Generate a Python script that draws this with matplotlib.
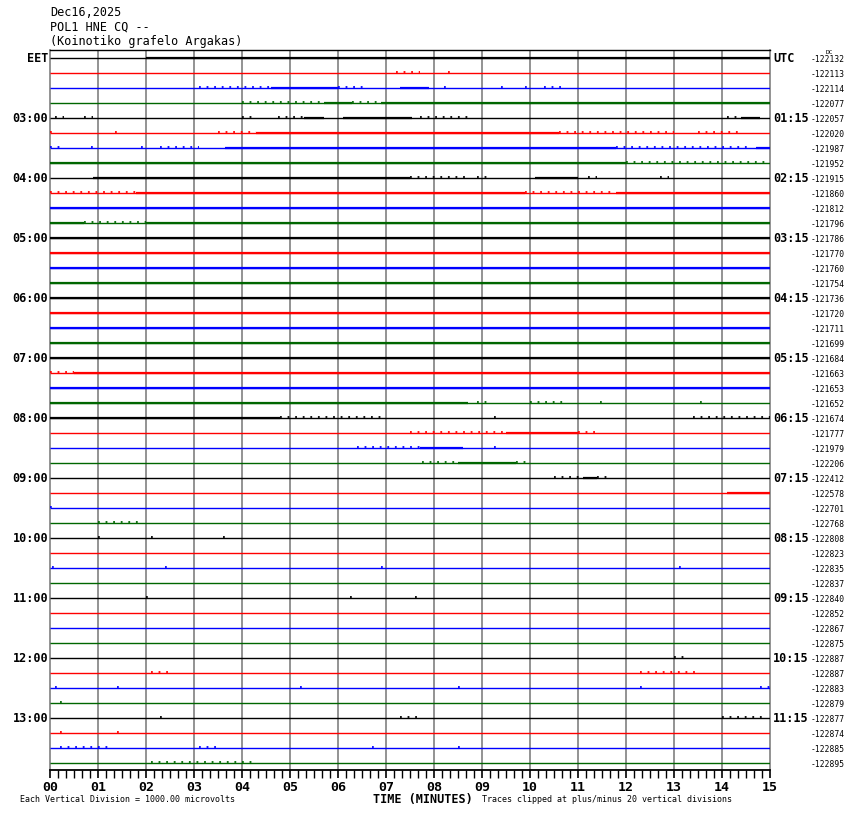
import matplotlib
matplotlib.use('Agg')
import matplotlib.pyplot as plt
import matplotlib.transforms as mtransforms

# helicorder rows: 48 traces, 15 min each, starting 02:00 EET
trace_colors = ['#000000', '#ff0000', '#0000ff', '#006600']

left_labels = {0: 'EET', 4: '03:00', 8: '04:00', 12: '05:00', 16: '06:00', 20: '07:00',
               24: '08:00', 28: '09:00', 32: '10:00', 36: '11:00', 40: '12:00', 44: '13:00'}
right_labels = {0: 'UTC', 4: '01:15', 8: '02:15', 12: '03:15', 16: '04:15', 20: '05:15',
                24: '06:15', 28: '07:15', 32: '08:15', 36: '09:15', 40: '10:15', 44: '11:15'}

dc_offsets = [-122132, -122113, -122114, -122077, -122057, -122020, -121987, -121952,
              -121915, -121860, -121812, -121796, -121786, -121770, -121760, -121754,
              -121736, -121720, -121711, -121699, -121684, -121663, -121653, -121652,
              -121674, -121777, -121979, -122206, -122412, -122578, -122701, -122768,
              -122808, -122823, -122835, -122837, -122840, -122852, -122867, -122875,
              -122887, -122887, -122883, -122879, -122877, -122874, -122885, -122895]

# noisy stretches per trace: (start min, end min, level) 1 = scattered spikes, 2 = dense
noise = {
    0: [(2.0, 15.0, 2)],
    1: [(7.2, 7.7, 1), (8.3, 8.4, 1)],
    2: [(3.1, 4.6, 1), (4.6, 6.0, 2), (6.0, 6.6, 1), (7.3, 7.9, 2), (8.2, 8.25, 1),
        (9.4, 9.5, 1), (9.9, 10.0, 1), (10.3, 10.7, 1)],
    3: [(4.0, 5.7, 1), (5.7, 6.3, 2), (6.3, 6.9, 1), (6.9, 15.0, 2)],
    4: [(0.1, 0.3, 1), (0.7, 0.9, 1), (4.0, 4.3, 1), (4.75, 5.3, 1), (5.3, 5.7, 2),
        (6.1, 7.55, 2), (7.7, 8.8, 1), (14.1, 14.4, 1), (14.4, 14.8, 2)],
    5: [(0.0, 0.1, 1), (1.35, 1.45, 1), (3.5, 4.3, 1), (4.3, 10.6, 2), (10.6, 13.0, 1),
        (13.5, 14.4, 1)],
    6: [(0.0, 0.2, 1), (0.85, 0.95, 1), (1.9, 2.0, 1), (2.3, 3.1, 1), (3.65, 11.8, 2),
        (11.8, 14.6, 1), (14.7, 15.0, 2)],
    7: [(0.0, 12.0, 2), (12.0, 15.0, 1)],
    8: [(0.9, 7.5, 2), (7.5, 8.7, 1), (8.9, 9.2, 1), (10.1, 11.0, 2), (11.2, 11.4, 1),
        (12.7, 12.9, 1)],
    9: [(0.0, 1.8, 1), (1.8, 9.9, 2), (9.9, 11.8, 1), (11.8, 15.0, 2)],
    10: [(0.0, 15.0, 2)],
    11: [(0.0, 0.7, 2), (0.7, 2.0, 1), (2.0, 15.0, 2)],
    12: [(0.0, 15.0, 2)], 13: [(0.0, 15.0, 2)], 14: [(0.0, 15.0, 2)], 15: [(0.0, 15.0, 2)],
    16: [(0.0, 15.0, 2)], 17: [(0.0, 15.0, 2)], 18: [(0.0, 15.0, 2)], 19: [(0.0, 15.0, 2)],
    20: [(0.0, 15.0, 2)], 21: [(0.0, 0.5, 1), (0.5, 15.0, 2)], 22: [(0.0, 15.0, 2)],
    23: [(0.0, 8.7, 2), (8.9, 9.2, 1), (10.0, 10.7, 1), (11.45, 11.55, 1), (13.55, 13.65, 1)],
    24: [(0.0, 4.8, 2), (4.8, 7.0, 1), (9.25, 9.35, 1), (13.4, 15.0, 1)],
    25: [(7.5, 9.5, 1), (9.5, 11.0, 2), (11.0, 11.4, 1)],
    26: [(6.4, 7.7, 1), (7.7, 8.6, 2), (9.25, 9.3, 1)],
    27: [(7.75, 8.5, 1), (8.5, 9.7, 2), (9.7, 9.95, 1)],
    28: [(10.5, 11.1, 1), (11.1, 11.4, 2), (11.4, 11.6, 1)],
    29: [(14.1, 15.0, 2)],
    30: [(0.0, 0.1, 1)],
    31: [(1.0, 1.9, 1)],
    32: [(1.0, 1.1, 1), (2.1, 2.2, 1), (3.6, 3.7, 1)],
    34: [(0.05, 0.15, 1), (2.4, 2.5, 1), (6.9, 7.0, 1), (13.1, 13.2, 1)],
    36: [(2.0, 2.1, 1), (6.25, 6.35, 1), (7.6, 7.7, 1)],
    40: [(13.0, 13.3, 1)],
    41: [(2.1, 2.5, 1), (12.3, 13.5, 1)],
    42: [(0.1, 0.2, 1), (1.4, 1.5, 1), (5.2, 5.3, 1), (8.5, 8.6, 1), (12.3, 12.4, 1),
         (14.8, 15.0, 1)],
    43: [(0.2, 0.3, 1)],
    44: [(2.3, 2.4, 1), (7.3, 7.7, 1), (14.0, 14.9, 1)],
    45: [(0.2, 0.3, 1), (1.4, 1.5, 1)],
    46: [(0.2, 1.2, 1), (3.1, 3.5, 1), (6.7, 6.8, 1), (8.5, 8.6, 1)],
    47: [(2.1, 4.2, 1)],
}

minute_labels = ['%02d' % m for m in range(16)]

W, H = 850, 814
fig = plt.figure(figsize=(W / 100, H / 100), dpi=100)
fig.patch.set_facecolor('white')

def fx(px):
    return px / W

def fy(py):
    return 1 - py / H

ax = fig.add_axes([fx(50), fy(770), 720 / W, 720 / H])
n_rows = len(dc_offsets)
ax.set_xlim(0, 15)
ax.set_ylim(47 + 7 / 15, -8 / 15)

# minute grid
for m in range(1, 15):
    ax.axvline(m, color='#808080', lw=1.2, zorder=1)

for i in range(n_rows):
    c = trace_colors[i % 4]
    ax.plot([0, 15], [i, i], color=c, lw=1.0, zorder=3, solid_capstyle='butt')
    for t0, t1, lev in noise.get(i, []):
        if lev == 2:
            ax.plot([t0, t1], [i - 0.03, i - 0.03], color=c, lw=1.6, zorder=3,
                    solid_capstyle='butt')
        else:
            ax.plot([t0, t1], [i - 0.06, i - 0.06], color=c, lw=1.3, zorder=3,
                    ls=(0, (1.0, 3.2)), dash_capstyle='butt')

for s in ['left', 'right']:
    ax.spines[s].set_color('#808080')
    ax.spines[s].set_linewidth(1.2)
ax.spines['top'].set_color('black')
ax.spines['bottom'].set_color('black')
ax.spines['top'].set_linewidth(1.0)
ax.spines['bottom'].set_linewidth(1.3)

ax.set_yticks([])
ax.set_xticks(range(16))
ax.set_xticklabels(minute_labels, fontfamily='DejaVu Sans Mono', fontweight='bold', fontsize=9.5)
ax.set_xticks([k / 6 for k in range(91)], minor=True)
ax.tick_params(axis='x', which='major', direction='out', length=6, width=1.2, pad=2)
ax.tick_params(axis='x', which='minor', direction='out', length=6, width=1.0)

mono = 'DejaVu Sans Mono'
trans = mtransforms.blended_transform_factory(fig.transFigure, ax.transData)
for r, lab in left_labels.items():
    ax.text(fx(48), r, lab, transform=trans, ha='right', va='center',
            fontfamily=mono, fontweight='bold', fontsize=8.5, clip_on=False)
for r, lab in right_labels.items():
    ax.text(fx(773), r, lab, transform=trans, ha='left', va='center',
            fontfamily=mono, fontweight='bold', fontsize=8.5, clip_on=False)
for r, v in enumerate(dc_offsets):
    ax.text(fx(811), r + 0.1, str(v), transform=trans, ha='left', va='center',
            fontfamily=mono, fontsize=5.8, clip_on=False)

fig.text(fx(50), fy(12), 'Dec16,2025', ha='left', va='center', fontfamily=mono, fontsize=8.5)
fig.text(fx(50), fy(27), 'POL1 HNE CQ --', ha='left', va='center', fontfamily=mono, fontsize=8.5)
fig.text(fx(50), fy(42), '(Koinotiko grafelo Argakas)', ha='left', va='center',
         fontfamily=mono, fontsize=8.5)
fig.text(fx(826), fy(52), 'DC', ha='left', va='center', fontfamily=mono, fontsize=4.5)
fig.text(fx(373), fy(799), 'TIME (MINUTES)', ha='left', va='center', fontfamily=mono,
         fontweight='bold', fontsize=8.5)
fig.text(fx(20), fy(800), 'Each Vertical Division = 1000.00 microvolts', ha='left', va='center',
         fontfamily=mono, fontsize=6)
fig.text(fx(482), fy(800), 'Traces clipped at plus/minus 20 vertical divisions', ha='left',
         va='center', fontfamily=mono, fontsize=6)

fig.savefig('out.png', dpi=100)
